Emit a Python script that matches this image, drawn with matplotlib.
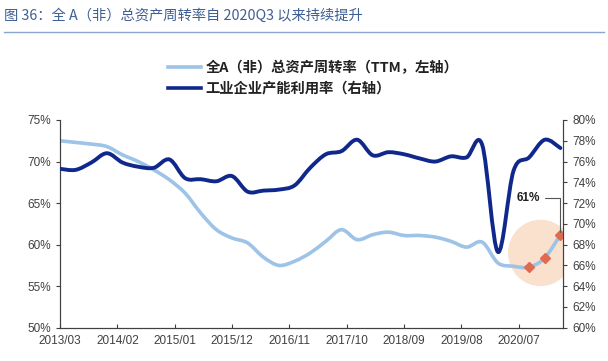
import numpy as np
import matplotlib
matplotlib.use("Agg")
import matplotlib.pyplot as plt
from matplotlib.path import Path
from matplotlib.patches import PathPatch, Ellipse
from matplotlib.lines import Line2D

plt.rcParams['font.family'] = ['Liberation Sans', 'Noto Sans CJK SC', 'DejaVu Sans']

# 季度数据（月份序号，0 = 2013/03）
months = np.arange(0, 97, 3)
tick_pos = np.arange(0, 89, 11)
tick_labels = ['2013/03', '2014/02', '2015/01', '2015/12', '2016/11',
               '2017/10', '2018/09', '2019/08', '2020/07']

turnover = [72.5, 72.3, 72.1, 71.8, 70.8, 70.0, 69.0, 67.8, 66.2, 63.8, 61.8,
            60.8, 60.2, 58.5, 57.5, 58.0, 59.0, 60.4, 61.8, 60.6, 61.2, 61.5,
            61.1, 61.1, 60.9, 60.4, 59.7, 60.3, 57.8, 57.4, 57.3, 58.4, 61.2]
capacity = [75.3, 75.2, 75.9, 76.8, 75.9, 75.5, 75.4, 76.2, 74.4, 74.3, 74.1,
            74.6, 73.1, 73.2, 73.3, 73.7, 75.4, 76.7, 77.0, 78.1, 76.6, 76.9,
            76.7, 76.3, 76.0, 76.5, 76.4, 77.6, 67.3, 75.1, 76.4, 78.1, 77.3]

name_turn = '全A（非）总资产周转率（TTM，左轴）'
name_cap = '工业企业产能利用率（右轴）'

c_light = '#9dc3e6'
c_dark = '#10288c'
c_mark = '#e06a4e'


def smooth_path(x, y):
    # Excel 风格的平滑曲线（贝塞尔）
    x = np.asarray(x, float)
    y = np.asarray(y, float)
    p = np.column_stack([x, y])
    n = len(p)
    verts = [p[0]]
    codes = [Path.MOVETO]
    for i in range(n - 1):
        p0 = p[i - 1] if i > 0 else p[i]
        p3 = p[i + 2] if i + 2 < n else p[i + 1]
        c1 = p[i] + (p[i + 1] - p0) / 6
        c2 = p[i + 1] - (p3 - p[i]) / 6
        verts += [c1, c2, p[i + 1]]
        codes += [Path.CURVE4] * 3
    return Path(verts, codes)


fig = plt.figure(figsize=(6.08, 3.61), dpi=100)
ax = fig.add_axes([0.0987, 0.0922, 0.8273, 0.5754])
ax2 = ax.twinx()

ax.add_patch(PathPatch(smooth_path(months, turnover), fill=False,
                       edgecolor=c_light, lw=2.6, capstyle='round', zorder=3))
ax2.add_patch(PathPatch(smooth_path(months, capacity), fill=False,
                        edgecolor=c_dark, lw=2.8, capstyle='round', zorder=3))

# 2020Q3 以来的点
ax.add_patch(Ellipse((months[-2] - 0.8, 59.0), 12.5, 8.0,
                     color='#f6c9a6', alpha=0.55, lw=0, zorder=2))
ax.plot(months[-3:], turnover[-3:], ls='none', marker='D', ms=5,
        color=c_mark, zorder=5)
ax.annotate('61%', xy=(months[-1], turnover[-1]), xytext=(months[-1] - 6.2, 65.6),
            fontsize=8.5, fontweight='bold', color='#222222', ha='center', va='center',
            arrowprops=dict(arrowstyle='-', color='#555555', lw=0.8,
                            shrinkA=2, shrinkB=2,
                            connectionstyle='angle,angleA=0,angleB=90,rad=0'),
            zorder=6)

ax.set_xlim(0, 96.5)
ax.set_ylim(50, 75)
ax.set_yticks(np.arange(50, 76, 5))
ax.set_yticklabels([f'{v}%' for v in range(50, 76, 5)])
ax2.set_ylim(60, 80)
ax2.set_yticks(np.arange(60, 81, 2))
ax2.set_yticklabels([f'{v}%' for v in range(60, 81, 2)])
ax.set_xticks(tick_pos)
ax.set_xticklabels(tick_labels)

for a in (ax, ax2):
    a.spines['top'].set_visible(False)
    for s in ('left', 'right', 'bottom'):
        a.spines[s].set_color('#404040')
        a.spines[s].set_linewidth(0.8)
    a.tick_params(labelsize=8.5, colors='#404040', length=3, width=0.8)
ax.tick_params(axis='x', direction='in', pad=5)

handles = [Line2D([], [], color=c_light, lw=2.6), Line2D([], [], color=c_dark, lw=2.6)]
fig.legend(handles, [name_turn, name_cap], loc='center', bbox_to_anchor=(0.515, 0.783),
           frameon=False, handlelength=2.3, handletextpad=0.35,
           labelspacing=0.45,
           prop={'family': ['Noto Sans CJK SC', 'DejaVu Sans'], 'size': 10.3, 'weight': 'bold'},
           labelcolor='#222222')

fig.text(0.006, 0.958, '图 36：全 A（非）总资产周转率自 2020Q3 以来持续提升',
         fontsize=10.3, color='#3f5f94', va='center',
         family=['Noto Sans CJK SC', 'DejaVu Sans'])
fig.add_artist(Line2D([0.006, 0.994], [0.912, 0.912], color='#8aa5cf', lw=1.0))

fig.savefig('out.png', dpi=100)
